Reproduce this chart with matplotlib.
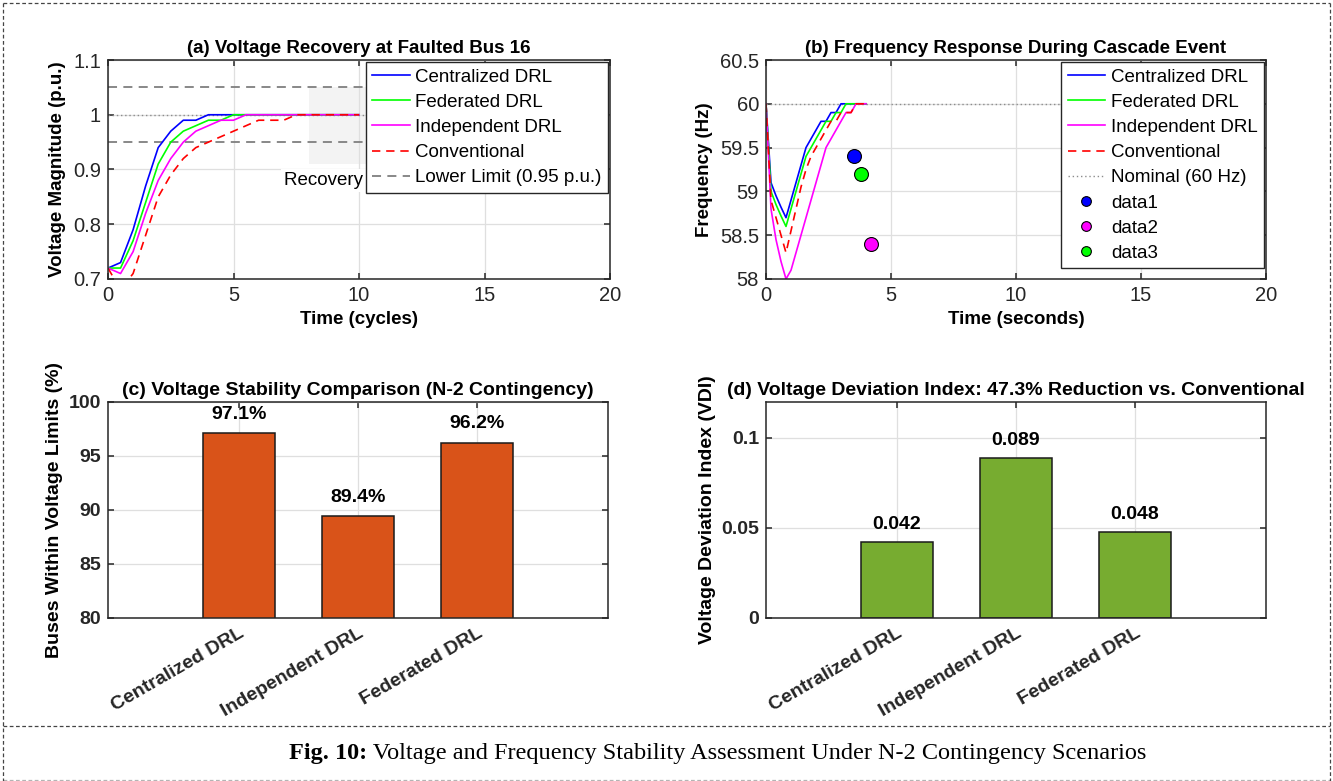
import matplotlib
matplotlib.use('Agg')
import matplotlib.pyplot as plt
from matplotlib.lines import Line2D
from matplotlib.patches import Rectangle
from matplotlib.ticker import FuncFormatter

# (a) voltage recovery at faulted bus 16
t_cycles = [0, 0.5, 1, 1.5, 2, 2.5, 3, 3.5, 4, 4.5, 5, 5.5, 6, 6.5, 7, 7.5, 8, 8.5, 9, 9.5, 10]
v_central = [0.72, 0.73, 0.79, 0.87, 0.94, 0.97, 0.99, 0.99, 1.00, 1.00, 1.00, 1.00, 1.00, 1.00, 1.00, 1.00, 1.00, 1.00, 1.00, 1.00, 1.00]
v_federated = [0.72, 0.72, 0.77, 0.84, 0.91, 0.95, 0.97, 0.98, 0.99, 0.99, 1.00, 1.00, 1.00, 1.00, 1.00, 1.00, 1.00, 1.00, 1.00, 1.00, 1.00]
v_independent = [0.72, 0.71, 0.75, 0.82, 0.88, 0.92, 0.95, 0.97, 0.98, 0.99, 0.99, 1.00, 1.00, 1.00, 1.00, 1.00, 1.00, 1.00, 1.00, 1.00, 1.00]
v_conventional = [0.72, 0.68, 0.71, 0.78, 0.85, 0.89, 0.92, 0.94, 0.95, 0.96, 0.97, 0.98, 0.99, 0.99, 0.99, 1.00, 1.00, 1.00, 1.00, 1.00, 1.00]
v_upper, v_nominal, v_lower = 1.05, 1.0, 0.95

# (b) frequency response
t_sec = [0, 0.2, 0.4, 0.6, 0.8, 1.0, 1.2, 1.4, 1.6, 1.8, 2.0, 2.2, 2.4, 2.6, 2.8, 3.0, 3.2, 3.4, 3.6, 3.8, 4.0]
f_central = [60, 59.1, 58.95, 58.82, 58.7, 58.9, 59.1, 59.3, 59.5, 59.6, 59.7, 59.8, 59.8, 59.9, 59.9, 60, 60, 60, 60, 60, 60]
f_federated = [60, 59.0, 58.85, 58.72, 58.6, 58.8, 59.0, 59.2, 59.4, 59.5, 59.6, 59.7, 59.8, 59.8, 59.9, 59.9, 60, 60, 60, 60, 60]
f_independent = [60, 58.8, 58.45, 58.2, 58.0, 58.1, 58.3, 58.5, 58.7, 58.9, 59.1, 59.3, 59.5, 59.6, 59.7, 59.8, 59.9, 59.9, 60, 60, 60]
f_conventional = [60, 58.9, 58.7, 58.5, 58.3, 58.55, 58.8, 59.05, 59.25, 59.4, 59.5, 59.6, 59.7, 59.8, 59.8, 59.9, 59.9, 59.9, 60, 60, 60]
f_nominal = 60
pts_t = [3.5, 4.2, 3.8]
pts_f = [59.4, 58.4, 59.2]
pts_color = ['#0000FF', '#FF00FF', '#00FF00']
pts_label = ['data1', 'data2', 'data3']

# (c), (d) bar comparisons
methods = ['Centralized DRL', 'Independent DRL', 'Federated DRL']
within_limits = [97.1, 89.4, 96.2]
vdi = [0.042, 0.089, 0.048]

W, H = 1333, 781
FS = 13.5
TICK = 14.5
FS2 = 14
plt.rcParams['font.family'] = ['Liberation Sans', 'DejaVu Sans']
plt.rcParams['axes.linewidth'] = 1.1
plt.rcParams['axes.edgecolor'] = '#262626'
plt.rcParams['xtick.color'] = '#262626'
plt.rcParams['ytick.color'] = '#262626'
plt.rcParams['xtick.direction'] = 'in'
plt.rcParams['ytick.direction'] = 'in'
plt.rcParams['xtick.top'] = True
plt.rcParams['ytick.right'] = True
plt.rcParams['xtick.major.size'] = 4
plt.rcParams['ytick.major.size'] = 4
plt.rcParams['xtick.major.width'] = 1.1
plt.rcParams['ytick.major.width'] = 1.1
plt.rcParams['font.size'] = FS

fig = plt.figure(figsize=(W / 100, H / 100), dpi=100)


def box(x0, y0, x1, y1):
    return [x0 / W, 1 - y1 / H, (x1 - x0) / W, (y1 - y0) / H]


def style(ax, size, bold_ticks=False):
    ax.grid(True, color='#DFDFDF', linewidth=0.9)
    ax.set_axisbelow(True)
    ax.tick_params(labelsize=size, pad=5)
    fmt = FuncFormatter(lambda v, p: f'{v:g}')
    ax.yaxis.set_major_formatter(fmt)
    if bold_ticks:
        for lab in ax.get_yticklabels():
            lab.set_fontweight('bold')


dash = (0, (5, 3.5))
dot = (0, (1, 2))
leg_kw = dict(loc='upper right', fontsize=FS, frameon=True, fancybox=False, framealpha=1,
              edgecolor='#262626', borderaxespad=0.1, handlelength=2.0, handletextpad=0.3,
              labelspacing=0.43, borderpad=0.35)

# ---- (a)
ax = fig.add_axes(box(108, 60, 610, 279))
ax.add_patch(Rectangle((8, 0.91), 4, 0.14, facecolor='#F3F3F3', edgecolor='none', zorder=0.5))
ax.axhline(v_upper, color='#7F7F7F', lw=1.3, ls=dash, zorder=1)
lo = ax.axhline(v_lower, color='#7F7F7F', lw=1.3, ls=dash, zorder=1)
ax.axhline(v_nominal, color='#8C8C8C', lw=1.0, ls=dot, zorder=1)
la1, = ax.plot(t_cycles, v_central, color='#0000FF', lw=1.2)
la2, = ax.plot(t_cycles, v_federated, color='#00FF00', lw=1.2)
la3, = ax.plot(t_cycles, v_independent, color='#FF00FF', lw=1.2)
la4, = ax.plot(t_cycles, v_conventional, color='#FF0000', lw=1.2, ls=dash)
ax.text(7, 0.88, 'Recovery Zone', fontsize=FS, va='center', ha='left', zorder=3,
        bbox=dict(facecolor='white', edgecolor='none', pad=2))
ax.set_xlim(0, 20)
ax.set_ylim(0.7, 1.1)
ax.set_xticks([0, 5, 10, 15, 20])
ax.set_yticks([0.7, 0.8, 0.9, 1.0, 1.1])
style(ax, TICK)
ax.set_title('(a) Voltage Recovery at Faulted Bus 16', fontsize=FS, fontweight='bold', pad=5)
ax.set_xlabel('Time (cycles)', fontsize=FS, fontweight='bold', labelpad=4)
ax.set_ylabel('Voltage Magnitude (p.u.)', fontsize=FS, fontweight='bold', labelpad=5)
leg = ax.legend([la1, la2, la3, la4, lo],
                ['Centralized DRL', 'Federated DRL', 'Independent DRL', 'Conventional', 'Lower Limit (0.95 p.u.)'],
                **leg_kw)
leg.get_frame().set_linewidth(1.0)
leg.set_zorder(10)

# ---- (b)
ax = fig.add_axes(box(766, 60, 1266, 279))
nom = ax.axhline(f_nominal, color='#8C8C8C', lw=1.0, ls=dot, zorder=1)
lb1, = ax.plot(t_sec, f_central, color='#0000FF', lw=1.2)
lb2, = ax.plot(t_sec, f_federated, color='#00FF00', lw=1.2)
lb3, = ax.plot(t_sec, f_independent, color='#FF00FF', lw=1.2)
lb4, = ax.plot(t_sec, f_conventional, color='#FF0000', lw=1.2, ls=dash)
pts = []
for x, y, c in zip(pts_t, pts_f, pts_color):
    p, = ax.plot([x], [y], 'o', color=c, markersize=10, markeredgecolor='#000000', markeredgewidth=0.8)
    pts.append(p)
ax.set_xlim(0, 20)
ax.set_ylim(58, 60.5)
ax.set_xticks([0, 5, 10, 15, 20])
ax.set_yticks([58, 58.5, 59, 59.5, 60, 60.5])
style(ax, TICK)
ax.set_title('(b) Frequency Response During Cascade Event', fontsize=FS, fontweight='bold', pad=5)
ax.set_xlabel('Time (seconds)', fontsize=FS, fontweight='bold', labelpad=4)
ax.set_ylabel('Frequency (Hz)', fontsize=FS, fontweight='bold', labelpad=5)
leg = ax.legend([lb1, lb2, lb3, lb4, nom] + pts,
                ['Centralized DRL', 'Federated DRL', 'Independent DRL', 'Conventional', 'Nominal (60 Hz)'] + pts_label,
                markerscale=0.7, **leg_kw)
leg.get_frame().set_linewidth(1.0)
leg.set_zorder(10)

# ---- (c) and (d)
xpos = [1, 2, 3]


def bar_panel(rect, values, color, ylim, yticks, title, ylabel, fmt, off):
    ax = fig.add_axes(rect)
    ax.bar(xpos, values, width=0.6, color=color, edgecolor='#1A1A1A', linewidth=1.1, zorder=2)
    for x, v in zip(xpos, values):
        ax.text(x, v + off, fmt.format(v), ha='center', va='bottom', fontsize=FS2, fontweight='bold')
    ax.set_xlim(-0.1, 4.1)
    ax.set_ylim(*ylim)
    ax.set_yticks(yticks)
    ax.set_xticks(xpos)
    ax.set_xticklabels(methods, rotation=30, ha='right', rotation_mode='anchor', fontweight='bold')
    style(ax, FS2, bold_ticks=True)
    ax.set_title(title, fontsize=FS2, fontweight='bold', pad=5)
    ax.set_ylabel(ylabel, fontsize=FS2, fontweight='bold', labelpad=4)
    return ax


bar_panel(box(108, 402, 608, 618), within_limits, '#D95319', (80, 100), [80, 85, 90, 95, 100],
          '(c) Voltage Stability Comparison (N-2 Contingency)', 'Buses Within Voltage Limits (%)',
          '{:.1f}%', 1.0)
bar_panel(box(766, 402, 1266, 618), vdi, '#77AC30', (0, 0.12), [0, 0.05, 0.1],
          '(d) Voltage Deviation Index: 47.3% Reduction vs. Conventional', 'Voltage Deviation Index (VDI)',
          '{:.3f}', 0.005)


# document frame and caption
def fline(x0, y0, x1, y1, **kw):
    fig.add_artist(Line2D([x0 / W, x1 / W], [1 - y0 / H, 1 - y1 / H], transform=fig.transFigure,
                          color='#444444', lw=0.9, ls=(0, (3, 2)), **kw))


fline(3, 3, 1330, 3)
fline(3, 3, 3, 781)
fline(1330, 3, 1330, 781)
fline(3, 726, 1330, 726)
fline(3, 780, 1330, 780, alpha=0.4)

cap_y = 1 - 754 / H
cap_size = 17.5
t1 = fig.text(289 / W, cap_y, 'Fig. 10:', ha='left', va='center', fontsize=cap_size,
              family='Liberation Serif', fontweight='bold')
fig.canvas.draw()
ext = t1.get_window_extent(renderer=fig.canvas.get_renderer())
fig.text(ext.x1 / W, cap_y, ' Voltage and Frequency Stability Assessment Under N-2 Contingency Scenarios',
         ha='left', va='center', fontsize=cap_size, family='Liberation Serif')

fig.savefig('out.png', dpi=100)
